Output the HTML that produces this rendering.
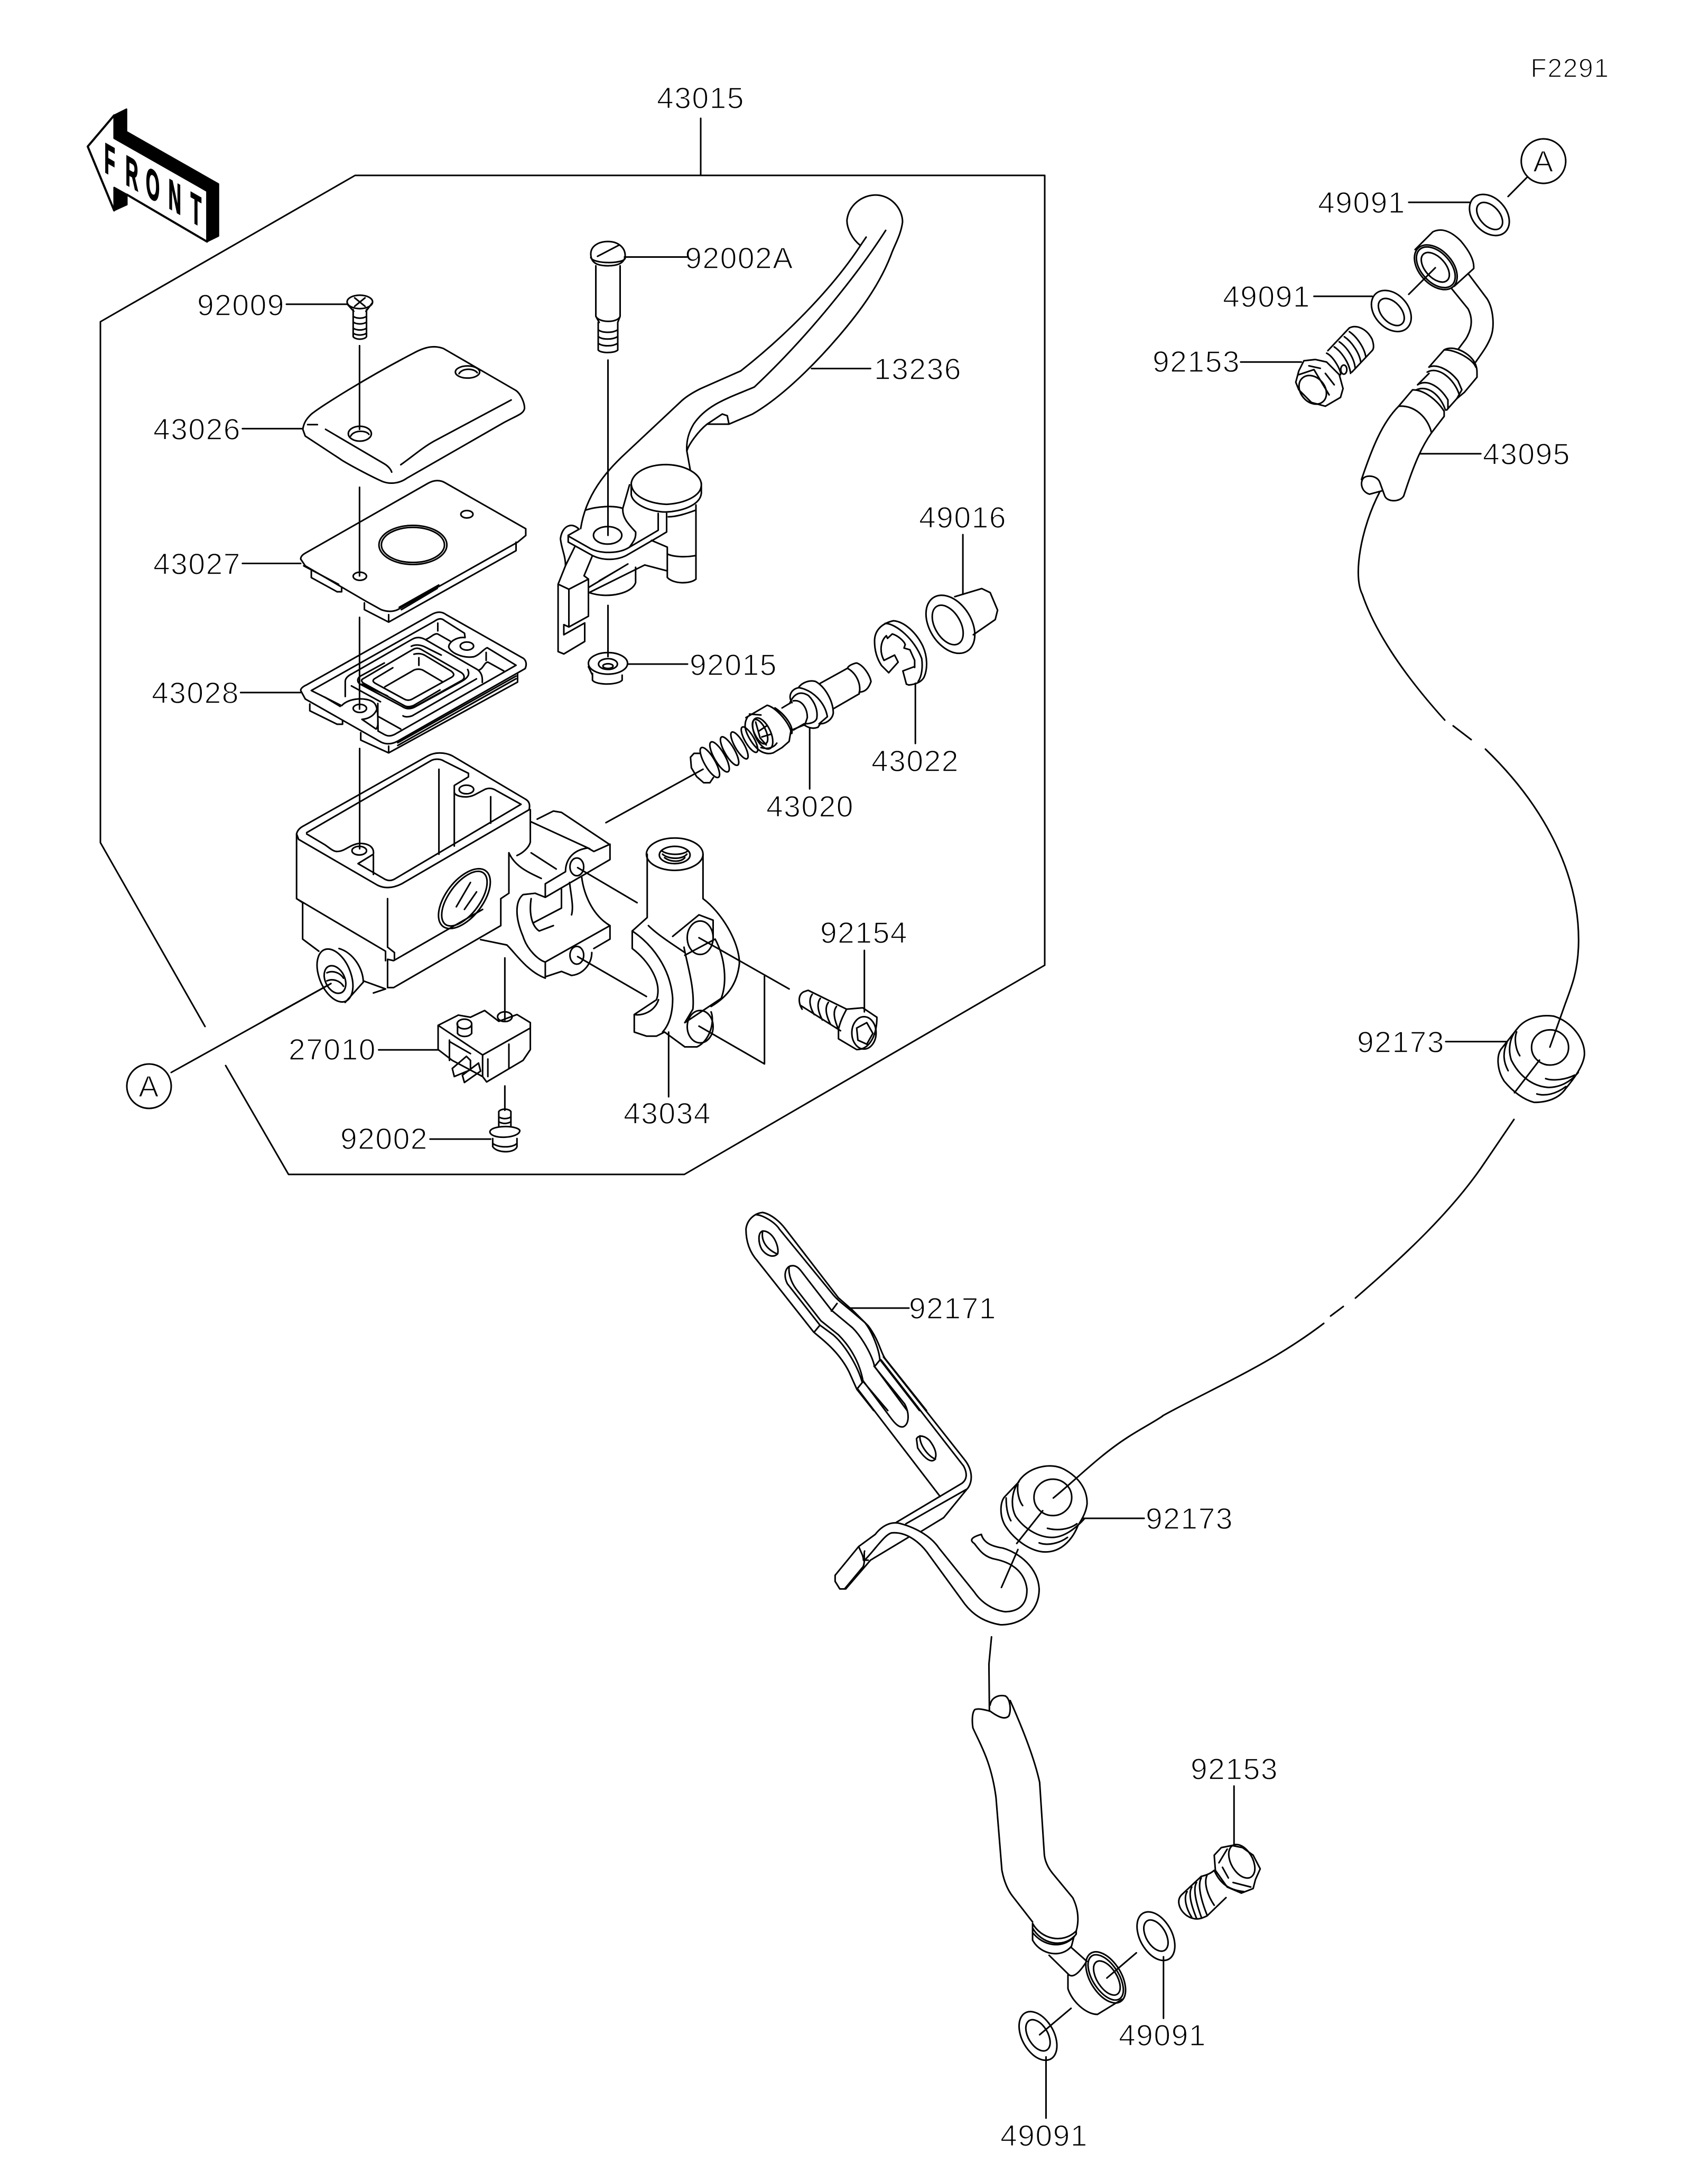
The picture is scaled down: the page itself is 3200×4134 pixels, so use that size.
<!DOCTYPE html>
<html><head><meta charset="utf-8"><style>
html,body{margin:0;padding:0;background:#fff}
svg{display:block}
path,ellipse,circle{vector-effect:non-scaling-stroke;fill:none;stroke:#000;stroke-width:3;stroke-linejoin:round;stroke-linecap:round}
.t{font-family:"Liberation Sans",sans-serif;font-size:57px;text-anchor:middle;fill:#000;stroke:#fff;stroke-width:1.6px;letter-spacing:1.5px}
.b{fill:#000;stroke:#000}
.f{font-family:"Liberation Sans",sans-serif;font-size:240px;font-weight:bold;fill:#000;stroke:#000;stroke-width:7px}
</style></head><body>
<svg xmlns="http://www.w3.org/2000/svg" width="3200" height="4134" viewBox="0 0 3200 4134">
<rect width="3200" height="4134" fill="#fff"/>

<!-- frame & free lines (real px) -->
<path d="M1326 224V332M388 1943L190 1595V609L672 332H1977V1827L1295 2223H546L427 2017"/>
<circle cx="282" cy="2056" r="42"/>
<path d="M324 2030L626 1862"/>
<!-- cables -->
<path d="M2611 931C2575 1000 2560 1090 2578 1125C2600 1190 2650 1270 2734 1363M2750 1374L2784 1400M2811 1418C2926 1529 2992 1661 2987 1793C2985 1840 2975 1865 2962 1900L2933 1982"/>
<path d="M2865 2119L2810 2200C2750 2290 2660 2375 2565 2457M2542 2473L2518 2491M2505 2505C2400 2585 2290 2630 2200 2680"/>

<!-- labels -->
<text class="t" x="2971" y="146" style="font-size:50px">F2291</text>
<text class="t" x="1326" y="205">43015</text>
<text class="t" x="456" y="597">92009</text>
<text class="t" x="373" y="832">43026</text>
<text class="t" x="373" y="1087">43027</text>
<text class="t" x="370" y="1331">43028</text>
<text class="t" x="1399" y="508">92002A</text>
<text class="t" x="1737" y="718">13236</text>
<text class="t" x="1822" y="999">49016</text>
<text class="t" x="1388" y="1278">92015</text>
<text class="t" x="1732" y="1460">43022</text>
<text class="t" x="1533" y="1546">43020</text>
<text class="t" x="1635" y="1785">92154</text>
<text class="t" x="1263" y="2127">43034</text>
<text class="t" x="629" y="2006">27010</text>
<text class="t" x="727" y="2175">92002</text>
<text class="t" x="2577" y="403">49091</text>
<text class="t" x="2397" y="581">49091</text>
<text class="t" x="2264" y="704">92153</text>
<text class="t" x="2889" y="879">43095</text>
<text class="t" x="2651" y="1992">92173</text>
<text class="t" x="1803" y="2496">92171</text>
<text class="t" x="2251" y="2894">92173</text>
<text class="t" x="2336" y="3368">92153</text>
<text class="t" x="2200" y="3872">49091</text>
<text class="t" x="1976" y="4062">49091</text>
<text class="t" x="2921" y="325">A</text>
<text class="t" x="282" y="2076">A</text>

<!-- FRONT -->
<g transform="translate(120,180) scale(.3333)">
<path class="b" d="M288 115L358 80V208L880 505V800L815 832V545L288 245Z"/>
<path class="b" d="M288 525L360 565V622L288 655Z"/>
<path style="stroke-width:4" d="M288 115L138 292L288 655M360 565L815 832"/>
<text class="f" transform="translate(232,435) matrix(.42,.24,0,1,0,0)">F</text>
<text class="f" transform="translate(352,505) matrix(.42,.24,0,1,0,0)">R</text>
<text class="f" transform="translate(468,570) matrix(.42,.24,0,1,0,0)">O</text>
<text class="f" transform="translate(596,640) matrix(.42,.24,0,1,0,0)">N</text>
<text class="f" transform="translate(722,715) matrix(.42,.24,0,1,0,0)">T</text>
</g>

<!-- Zoom 1: cover stack -->
<g transform="translate(150,500) scale(.574,.638)">
<path d="M683 119H885M538 488H737M538 888H730M532 1271H730M924 242V490M924 662V925M924 1048V1320"/>
<ellipse cx="925" cy="112" rx="42" ry="20"/>
<path d="M908 100L942 125M942 100L908 125M885 120L905 140M966 115L945 140M903 135V215C910 225 940 225 947 215V135M903 155C915 162 935 162 947 155M903 172C915 179 935 179 947 172M903 190C915 197 935 197 947 190M903 205C915 212 935 212 947 205"/>
<path d="M737 490C740 470 750 458 765 445C800 420 950 335 1100 265C1140 245 1170 240 1200 250L1440 375C1455 385 1468 410 1468 428C1465 445 1440 450 1400 470L1080 635C1060 648 1030 655 1000 645C950 625 870 585 860 578L745 510Z"/>
<ellipse cx="1280" cy="320" rx="40" ry="18"/><path d="M1252 325C1262 308 1300 308 1312 322"/>
<ellipse cx="925" cy="503" rx="38" ry="22"/><path d="M895 510C905 492 945 492 955 505"/>
<path d="M812 490L1005 592C1020 600 1028 610 1030 617M1060 595C1100 570 1130 545 1170 525L1424 403M753 476H785"/>
<path d="M730 875C730 865 740 860 750 855L1150 650C1170 640 1190 640 1205 648L1472 785V805L1445 825L1050 1025C1030 1033 1010 1030 995 1025L945 1000L745 895Z"/>
<ellipse cx="1100" cy="833" rx="112" ry="58"/><ellipse cx="1100" cy="833" rx="104" ry="52"/>
<ellipse cx="1278" cy="742" rx="20" ry="11"/><ellipse cx="925" cy="926" rx="22" ry="12"/>
<path d="M765 910V930L850 972H865V960M940 1005V1025L1020 1062L1440 850V825M1020 1040V1062M1055 1018L1185 952M1062 1025L1180 962M740 895L855 950"/>
<path d="M730 1265C730 1258 740 1252 750 1248L1160 1040C1180 1030 1195 1030 1210 1040L1465 1170C1475 1178 1475 1190 1470 1200L1050 1415C1030 1425 1010 1425 995 1418L745 1290Z"/>
<path d="M765 1265L1170 1060C1185 1050 1195 1050 1205 1058L1270 1095L1272 1108C1245 1105 1220 1120 1218 1135C1220 1150 1260 1170 1300 1165C1320 1160 1335 1140 1345 1138L1440 1190L1040 1395C1025 1402 1015 1400 1005 1395L985 1385C985 1340 985 1310 970 1300C950 1285 890 1285 865 1310Z"/>
<path d="M1182 1065V1088"/>
<ellipse cx="1278" cy="1133" rx="22" ry="12"/><ellipse cx="925" cy="1318" rx="22" ry="12"/>
<path d="M760 1305V1325L850 1365H868V1355M928 1390V1412L1020 1450L1445 1240V1215M1020 1430V1450M1050 1420L1440 1222M1050 1428L1440 1230M810 1285L860 1312"/>
</g>

<!-- 43028 centre detail -->
<g transform="translate(640,1190) scale(.3333)">
<path d="M40 385V300C40 280 60 265 80 255L420 60C445 45 470 48 495 62L790 232C815 250 820 275 818 305"/>
<path d="M125 270C105 285 108 305 125 315L360 440C385 458 410 458 435 445L700 300C735 280 750 260 735 232M125 270L262 195M415 100C440 88 470 92 495 105L585 150"/>
<path d="M140 285L420 120C440 108 455 108 475 120L700 250C720 265 720 285 700 295L440 440C420 450 395 450 375 437L145 310C130 300 130 290 140 285Z"/>
<path d="M205 285L310 222M430 145C450 140 470 140 490 150L640 240C660 255 660 265 645 275L420 400C405 408 390 408 375 400L210 310C195 300 195 295 205 285"/>
<path d="M265 330L430 235C445 228 465 228 480 235L590 300M458 165V208M840 135V180"/>
<path d="M75 325L240 415M370 435C385 445 410 445 430 435L578 348M368 495C385 505 405 500 420 495L785 285M135 315L280 382"/>
<path d="M135 515C190 510 225 475 225 425M135 515L215 570M225 425V540C225 560 215 570 215 570M230 500L355 570M800 235C825 225 830 190 850 190L940 240M500 60C525 50 545 25 565 30L635 70"/>
</g>

<!-- Zoom 2: lever -->
<g transform="translate(1000,350) scale(.6378)">
<path d="M985 180C960 160 945 130 945 105C950 60 990 30 1030 30C1075 30 1110 70 1110 110C1105 150 1085 180 1075 210C1040 300 980 380 920 450C860 520 760 625 665 680L595 710H530M595 710L590 685L575 680L530 710C505 730 475 770 470 790L480 845"/>
<path d="M985 180L1002 155M985 180C900 310 760 450 630 552L510 605C480 620 460 635 450 645L290 795C230 850 170 920 155 1020"/>
<path d="M1060 135C980 260 830 450 670 600C600 630 530 650 490 710C475 735 468 760 470 790"/>
<path d="M118 1040V1060L190 1100C220 1115 260 1115 290 1100L385 1045L410 1030V975M118 1042L185 1080C215 1095 270 1095 300 1075L385 1025V975M118 1040L150 1022"/>
<path d="M150 1022C130 1000 100 1010 95 1050C98 1080 110 1100 110 1130L88 1185V1385L105 1392L167 1355V1300L105 1335V1305L120 1312L178 1280V1170L120 1200L88 1185M120 1200V1312M137 1075L110 1130"/>
<ellipse cx="235" cy="1040" rx="42" ry="26"/>
<path d="M170 965C200 955 250 950 280 960C278 990 300 1010 318 1030C320 1050 310 1060 300 1075M280 960L300 890"/>
<path d="M305 885V920C310 950 370 975 420 970C470 965 510 945 513 915V885M305 885C310 855 350 830 410 830C470 832 513 860 513 890C513 925 460 945 410 948C350 945 305 920 305 885"/>
<path d="M497 950V1170C480 1185 430 1185 412 1165V1075L365 1055M412 1095C430 1105 470 1105 497 1100M415 985C440 985 470 975 497 965M410 1145L345 1128L180 1210M190 1100L165 1160L178 1170M178 1195L295 1125M210 1175L270 1140M318 1135V1180C310 1210 240 1230 180 1210"/>
<path d="M236 1248V1400M236 520V1040M285 214H470M840 545H1015M296 1422H472M1289 1038V1215"/>
<path d="M185 205C185 180 210 168 236 168C265 168 287 185 287 210C285 235 260 240 236 240C210 240 185 235 185 205ZM205 212L270 178M200 240V390L210 408M272 240V390L265 408M200 390C210 410 265 410 272 390M207 408V490C215 500 255 500 265 490V408M207 430C220 440 250 440 265 430M207 450C220 460 250 460 265 450M207 470C220 480 250 480 265 470M185 215C190 235 280 235 287 218"/>
<ellipse cx="236" cy="1420" rx="58" ry="32"/><ellipse cx="236" cy="1422" rx="28" ry="16"/><ellipse cx="236" cy="1428" rx="15" ry="7"/>
<path d="M190 1450V1470C200 1485 265 1485 278 1470V1455M178 1430L190 1455"/>
<ellipse cx="1252" cy="1304" rx="62" ry="94" transform="rotate(-32 1252 1304)"/>
<ellipse cx="1244" cy="1306" rx="38" ry="64" transform="rotate(-30 1244 1306)"/>
<path d="M1265 1222L1345 1198L1370 1210L1392 1262L1385 1290L1320 1335"/>
</g>

<!-- Zoom 8: piston & circlip -->
<g transform="translate(1280,1150) scale(.4464,.3333)">
<path d="M900 370L870 330C850 290 840 240 840 190C840 130 870 90 920 75C970 80 1020 150 1045 220C1065 280 1065 350 1050 395C1040 420 1020 435 985 440L975 435L960 360L1010 335"/>
<path d="M885 90C930 90 1010 180 1040 290C1045 340 1040 390 1025 420"/>
<path d="M900 370L940 310L925 270L880 300C860 250 865 190 890 160L895 175L915 150C940 160 965 190 970 210L965 230L990 240L1010 300V340"/>
<path d="M1013 430V772M565 685V1030"/>
<path d="M610 430L725 345C730 325 760 315 765 315C795 330 820 385 825 420C815 460 800 480 775 480V490L665 575M725 345C760 370 785 430 775 490"/>
<path d="M520 450C535 425 565 410 590 420C630 450 665 530 665 600C660 640 630 660 610 660L600 680C580 690 560 685 540 665"/>
<path d="M490 540C470 500 490 460 520 455C580 470 630 540 640 620L605 660"/>
<path d="M480 545C500 480 530 475 560 500C590 540 600 590 595 630C590 650 570 660 545 660"/>
<path d="M495 530C530 520 555 570 555 625L545 665L490 695"/>
</g>

<!-- spring & piston head detail -->
<g transform="translate(1290,1300) scale(.3333)">
<ellipse cx="160" cy="430" rx="30" ry="97" transform="rotate(-30 160 430)"/>
<ellipse cx="215" cy="398" rx="30" ry="97" transform="rotate(-30 215 398)"/>
<ellipse cx="272" cy="365" rx="28" ry="92" transform="rotate(-30 272 365)"/>
<ellipse cx="328" cy="333" rx="26" ry="87" transform="rotate(-30 328 333)"/>
<ellipse cx="385" cy="300" rx="26" ry="82" transform="rotate(-30 385 300)"/>
<path d="M180 515L160 545H125L85 510L55 460L50 400L70 378H105"/>
<path d="M365 175L485 105C530 115 600 190 620 250L610 310L570 345L520 375C490 385 460 375 440 360C400 330 360 260 360 220C360 200 365 185 375 170M530 120C590 160 635 225 625 265"/>
<ellipse cx="460" cy="265" rx="45" ry="95" transform="rotate(-25 460 265)"/>
<ellipse cx="445" cy="255" rx="33" ry="75" transform="rotate(-25 445 255)"/>
<path d="M420 200L445 290L480 330M440 250L485 220M455 285L505 270M385 155L450 160M450 345C480 355 520 350 540 320M570 120L620 90M635 245L695 210"/>
</g>

<!-- Zoom 3: body, clamp, switch -->
<g transform="translate(500,1400) scale(.7653,.5102)">
<path d="M236 33V405M845 308L1085 110M0 1042L165 905M595 810V1040M595 1285V1375M283 1151H430M410 1482H560M775 475L922 605M775 805L945 953M1075 735L1298 925M1075 1063L1237 1203V878M1000 1085V1325M1484 782V1010"/>
<path d="M80 350C82 335 90 325 100 318L405 60C420 47 445 45 465 60L645 220C655 228 658 240 655 260L340 535C320 550 300 555 280 540L85 370Z"/>
<path d="M105 345L410 80C420 70 435 70 445 80L505 125V138L470 170V195C470 210 500 220 520 205L545 185C555 178 565 180 575 190L635 240L325 515C315 525 305 525 295 515L232 460L270 425C272 400 260 385 235 385C210 390 200 415 180 415C170 415 160 400 150 390L105 350"/>
<path d="M432 110V425M470 195V395M560 212V310M270 430V500"/>
<ellipse cx="235" cy="412" rx="18" ry="16"/><ellipse cx="500" cy="185" rx="18" ry="16"/>
<path d="M80 350V590L300 785V820M80 590L95 605V740L135 785M605 420V570L585 590V690L320 920H305V815L320 820L540 630M305 590V770L322 790V815"/>
<ellipse cx="495" cy="590" rx="50" ry="118" transform="rotate(22 495 590)"/>
<ellipse cx="495" cy="590" rx="42" ry="108" transform="rotate(22 495 590)"/>
<path d="M510 530L475 620M525 565L495 630"/>
<path d="M658 260V380C655 400 640 420 625 430M605 420C620 470 650 490 685 515M660 420L722 480"/>
<path d="M675 295L715 265L735 270L855 390V445L695 585V535L745 490C745 450 760 410 800 402L815 415L855 388M660 305L805 405"/>
<ellipse cx="773" cy="472" rx="17" ry="33"/>
<path d="M695 585L670 570L640 575C620 600 620 660 640 730C650 780 680 820 695 825V880L735 860L760 875C790 870 810 830 810 790M695 825L855 690V740L815 775M785 510C790 570 810 650 855 690M660 590C655 640 660 690 680 710L715 690M665 680L735 625V555M755 530C760 590 765 620 760 650"/>
<ellipse cx="773" cy="800" rx="17" ry="33"/>
<path d="M535 742L600 762C620 790 650 860 695 885"/>
<ellipse cx="175" cy="875" rx="40" ry="100" transform="rotate(-12 175 875)"/>
<ellipse cx="175" cy="890" rx="25" ry="52" transform="rotate(-12 175 890)"/>
<path d="M185 775C220 790 245 850 245 900L200 975M245 895L300 925L270 940M155 865C170 855 188 865 196 885M155 895C170 885 188 895 196 915"/>
<ellipse cx="1015" cy="425" rx="70" ry="60"/><ellipse cx="1015" cy="428" rx="38" ry="32"/>
<path d="M985 425C1000 445 1035 445 1045 425M990 438C1005 455 1030 455 1040 438M982 412C1000 430 1035 430 1048 412"/>
<path d="M947 425V660L910 710V775C950 820 985 900 970 965L915 1020V1085L945 1100H970L990 1085L1040 1140L1070 1140C1100 1120 1115 1050 1105 1010M1085 425V590C1130 640 1175 750 1175 830C1170 900 1150 950 1105 990"/>
<path d="M910 710C960 760 1005 850 1010 960C1010 1020 1000 1060 985 1085M950 690C970 720 1000 750 1040 790M1038 770C1045 830 1065 920 1060 1000L1040 1050M1010 730L1075 650L1110 670V740M1040 800L1115 740C1140 810 1145 900 1130 960L1040 1050M915 1020C935 1025 965 1010 975 965"/>
<ellipse cx="1078" cy="735" rx="32" ry="62"/><ellipse cx="1078" cy="1065" rx="32" ry="60"/>
<path d="M1335 935L1345 930L1440 1000M1325 985L1425 1080M1335 935C1320 945 1320 975 1330 1000M1355 945C1345 965 1350 995 1360 1020M1375 960C1365 980 1370 1010 1380 1040M1395 975C1385 995 1390 1025 1400 1055M1415 990C1405 1010 1410 1040 1420 1075"/>
<path d="M1440 1000L1480 995L1515 1030C1515 1090 1500 1150 1465 1150L1420 1110V1075C1425 1040 1435 1015 1440 1000Z"/>
<ellipse cx="1483" cy="1088" rx="30" ry="60"/>
<path d="M1465 1070L1490 1050L1505 1090L1490 1130L1468 1115Z"/>
<path d="M430 1060L480 1022L510 1030L545 1005L580 1045L625 1020L658 1050V1150L640 1190L550 1270L540 1250L465 1190L430 1150ZM430 1060L540 1170V1250M540 1170L658 1070M605 1130V1220M553 1185V1250M458 1115V1190M458 1120L510 1165"/>
<ellipse cx="495" cy="1055" rx="18" ry="18"/><path d="M478 1055V1090C485 1105 505 1105 513 1090V1055"/>
<ellipse cx="595" cy="1028" rx="18" ry="18"/>
<path d="M465 1220L500 1175L510 1190V1225L470 1250ZM490 1245L530 1200L535 1230L495 1272Z"/>
<path d="M580 1380C585 1368 605 1368 610 1380V1435M580 1380V1435M580 1400C590 1408 600 1408 610 1400M580 1418C590 1426 600 1426 610 1418M558 1455C560 1430 625 1430 632 1450C632 1480 560 1485 558 1455ZM565 1480V1510C575 1535 620 1535 625 1510V1480M565 1498C578 1515 615 1515 625 1498"/>
</g>

<!-- Zoom 10: bracket top -->
<g transform="translate(1380,2270) scale(.3333)">
<path d="M1120 1200L885 905C860 870 850 800 790 720L700 630L620 560L320 170C290 130 240 85 190 75C140 80 100 120 95 170C95 240 115 300 160 350L480 755C520 790 620 860 680 980L725 1080L820 1200"/>
<path d="M155 88C190 90 260 130 285 170L580 530C610 570 640 590 700 640L770 700C810 750 850 850 855 910L1080 1200M825 950L1010 1200M580 630L700 730C750 780 810 880 825 950"/>
<path d="M345 380C375 370 395 390 410 410L580 630M340 385C335 420 350 470 380 510L520 690L620 770C680 830 740 920 760 1035L900 1200M350 378C320 385 305 430 330 480L515 715L590 770C660 830 730 950 755 1040"/>
<path d="M580 635L612 592M482 755L515 715M825 950L858 910M725 1078L760 1035M675 618H1020"/>
<path d="M190 180C160 190 165 250 185 285C210 320 250 335 275 310C285 270 250 180 190 180ZM190 180C180 230 205 280 270 310"/>
</g>

<!-- Zoom 4: bracket bottom, wire clip, grommet -->
<g transform="translate(1500,2250) scale(.4464,.574)">
<path d="M385 555L730 895C760 925 765 960 745 985L640 1085L545 1130M375 565L725 915C745 945 735 965 710 975L440 1100M275 660L625 1015M740 990L480 1105"/>
<path d="M345 585L475 710C495 740 495 775 470 785C450 790 430 770 420 760L300 635"/>
<path d="M525 825C535 810 560 815 580 830C605 855 615 880 600 895C580 905 550 880 530 855ZM540 815C535 840 570 880 605 892"/>
<path d="M280 1180L180 1275V1295L200 1320H225L330 1225L490 1150M280 1180L350 1140M280 1180C290 1200 300 1210 300 1225L320 1225M305 1195C300 1200 310 1240 295 1250L220 1320"/>
<path d="M350 1140C380 1110 420 1095 460 1105C530 1120 590 1150 620 1185L770 1330C800 1365 850 1390 900 1395C960 1395 995 1370 993 1320C985 1270 940 1235 860 1222C810 1215 790 1190 770 1170C750 1160 755 1150 800 1140C810 1170 850 1180 890 1185C960 1200 1040 1250 1045 1320C1045 1400 960 1440 880 1438C820 1430 770 1410 730 1370L580 1210C550 1175 490 1130 420 1135C390 1140 350 1190 305 1225"/>
<path d="M955 970C990 920 1090 900 1150 925C1210 950 1250 990 1248 1040C1245 1060 1235 1080 1210 1110C1190 1150 1150 1190 1090 1197C1020 1205 940 1160 900 1110C875 1075 880 1030 900 1015ZM960 965C925 1000 925 1050 945 1080C980 1120 1040 1150 1100 1150C1150 1150 1200 1120 1235 1090"/>
<ellipse cx="1103" cy="1018" rx="80" ry="60"/>
<path d="M955 975C950 1000 960 1030 975 1045M905 1020C905 1050 910 1075 925 1095M1080 1120C1120 1128 1170 1125 1205 1105M1045 1168C1080 1178 1130 1170 1165 1150"/>
<path d="M1105 1020C1200 960 1300 880 1420 820C1480 790 1530 770 1568 750M1060 1062L950 1170M955 1190L885 1315M1232 1087H1490M843 1478L832 1568"/>
</g>

<!-- Zoom 5: lower hose -->
<g transform="translate(1800,3150) scale(.4464,.574)">
<path d="M160 0L162 155"/>
<path d="M165 155C140 150 115 145 100 150C88 160 88 190 92 210C120 260 170 320 190 440L215 680C225 720 240 745 260 765L345 850"/>
<path d="M165 135C170 110 200 100 230 105C250 115 255 150 245 170C230 185 200 175 165 155"/>
<path d="M250 120C290 190 350 300 375 390L395 630C400 660 420 680 430 690L515 770C535 800 545 840 530 880"/>
<path d="M345 855C380 905 470 925 530 880V890L520 900C470 940 390 930 345 885ZM345 885V910C380 960 470 970 510 930L520 900M345 870C380 920 470 940 525 895"/>
<path d="M415 960L500 1025C520 1035 545 1015 570 985M510 935L575 980M495 1025V1070C510 1110 570 1155 620 1155L725 1105"/>
<ellipse cx="655" cy="1033" rx="60" ry="103" transform="rotate(-45 655 1033)"/>
<ellipse cx="655" cy="1033" rx="50" ry="93" transform="rotate(-45 655 1033)"/>
<ellipse cx="660" cy="1035" rx="38" ry="70" transform="rotate(-45 660 1035)"/>
<path d="M660 1035L785 952M900 965V1168M375 1222L508 1135M402 1295V1497M1199 402V597"/>
<ellipse cx="868" cy="897" rx="62" ry="95" transform="rotate(-45 868 897)"/>
<ellipse cx="868" cy="895" rx="38" ry="62" transform="rotate(-45 868 895)"/>
<ellipse cx="368" cy="1226" rx="62" ry="95" transform="rotate(-45 368 1226)"/>
<ellipse cx="368" cy="1224" rx="38" ry="62" transform="rotate(-45 368 1224)"/>
<path d="M975 762L1060 700M1000 830C1040 850 1070 835 1085 830L1165 770M975 762C955 780 965 810 1000 830M1000 750C985 770 995 805 1020 835M1020 735C1005 755 1015 790 1040 838M1040 720C1025 740 1035 780 1062 838M1060 705C1045 725 1055 770 1085 828M1085 695C1070 720 1085 760 1115 795"/>
<path d="M1115 630L1145 605L1190 598L1235 605L1280 630L1310 675L1290 710L1280 740L1230 755L1170 735L1120 680Z"/>
<ellipse cx="1232" cy="650" rx="42" ry="66" transform="rotate(-45 1232 650)"/>
<path d="M1115 680C1140 725 1180 745 1240 750M1060 700C1085 695 1100 690 1115 680M1135 655L1170 610M1150 670L1175 705M1195 720L1270 735"/>
</g>

<!-- Zoom 6: upper hose -->
<g transform="translate(2300,250) scale(.4783)">
<circle cx="1298" cy="115" r="88"/>
<path d="M1232 180L1158 255M765 278H1005M390 650H620M765 642L870 537M100 910H340M810 1273H1050"/>
<ellipse cx="1084" cy="328" rx="66" ry="92" transform="rotate(-42 1084 328)"/>
<ellipse cx="1085" cy="332" rx="39" ry="63" transform="rotate(-42 1085 332)"/>
<ellipse cx="696" cy="708" rx="66" ry="92" transform="rotate(-42 696 708)"/>
<ellipse cx="696" cy="712" rx="39" ry="63" transform="rotate(-42 696 712)"/>
<ellipse cx="872" cy="535" rx="66" ry="103" transform="rotate(-42 872 535)"/>
<ellipse cx="872" cy="535" rx="58" ry="95" transform="rotate(-42 872 535)"/>
<ellipse cx="870" cy="535" rx="40" ry="70" transform="rotate(-42 870 535)"/>
<path d="M790 465L860 395C900 375 940 400 970 430C1000 465 1025 505 1022 540L945 610"/>
<path d="M1000 560L1075 660C1100 700 1105 770 1090 810C1075 850 1050 880 1030 910M935 620L1000 700C1020 740 1015 780 990 820L960 860"/>
<path d="M905 862C925 850 960 855 990 875C1020 895 1035 920 1035 950V970L985 1030L955 1055M905 862L845 930M905 862C950 860 1020 900 1030 930"/>
<path d="M845 930C880 915 930 945 960 985L975 1020L955 1055M838 950C880 925 945 975 965 1040"/>
<path d="M800 1000C840 975 890 1010 920 1060V1095M800 1000L845 955M795 1020C840 1000 890 1040 910 1100M955 1055L915 1100"/>
<path d="M725 1085L780 1020C830 1020 880 1065 905 1105V1125L855 1190M725 1085C790 1080 840 1130 855 1190"/>
<path d="M725 1085C660 1150 620 1250 578 1375M855 1190C820 1240 790 1300 745 1440C730 1465 680 1465 670 1440L650 1385C640 1360 600 1355 585 1370C570 1390 580 1425 610 1433L658 1420"/>
<path d="M445 865L530 775C560 760 600 780 620 820C630 850 625 860 620 865L540 950M490 830C520 850 550 895 553 935M470 850C500 870 530 915 535 955M510 810C540 830 570 875 575 910M530 790C560 810 590 855 595 890"/>
<path d="M330 945L350 905L395 900L440 910L490 960L505 1015L495 1050L435 1085L380 1070L330 1020L318 990Z"/>
<ellipse cx="385" cy="1020" rx="48" ry="62" transform="rotate(-40 385 1020)"/>
<path d="M330 960L390 940L450 1040M370 925L415 935M435 955L470 1000M440 875C470 890 500 950 495 960"/>
<ellipse cx="508" cy="940" rx="12" ry="18"/>
</g>

<!-- Zoom 9: upper grommet -->
<g transform="translate(2550,1900) scale(.3333)">
<path d="M965 140C1010 80 1100 60 1170 70C1270 100 1350 200 1345 290C1340 350 1290 420 1240 480C1200 540 1130 560 1060 560C1000 545 940 500 890 440C850 380 845 300 870 260ZM965 140C920 190 910 260 930 320C980 420 1060 470 1140 475C1210 475 1270 440 1310 390"/>
<ellipse cx="1150" cy="248" rx="105" ry="100"/>
<path d="M960 160C945 200 955 260 978 295M905 220C880 280 885 330 912 380M1125 425C1170 440 1240 430 1290 405M1075 512C1120 525 1180 515 1240 470M558 215H905M1090 320L948 505"/>
</g>
</svg>
</body></html>
